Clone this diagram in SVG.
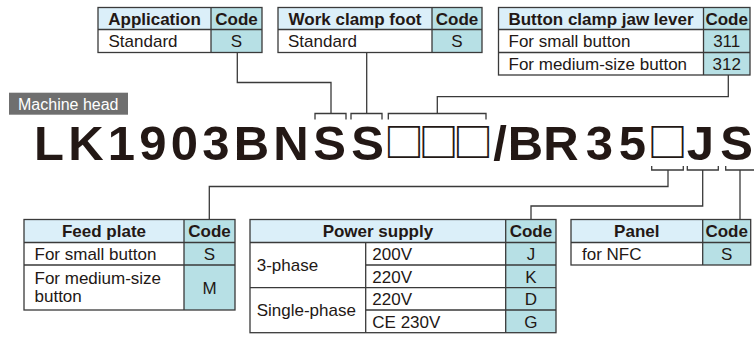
<svg xmlns="http://www.w3.org/2000/svg" width="754" height="338" viewBox="0 0 754 338">
<style>
.t{font-family:"Liberation Sans",Arial,sans-serif;font-size:17px;fill:#231815}
.b{font-weight:bold}
.m{text-anchor:middle}
.hd{fill:#dbeff9}
.cd{fill:#b7e0e5}
.ln{fill:none;stroke:#3a3a3a;stroke-width:1.3}
.cn{fill:none;stroke:#3a3a3a;stroke-width:1.3}
.big{font-family:"Liberation Sans",Arial,sans-serif;font-size:49px;font-weight:bold;fill:#231815;text-anchor:middle}
.bx{font-family:"Noto Sans CJK JP",sans-serif;font-size:40px;font-weight:bold}
.bx3{font-family:"Noto Sans CJK JP",sans-serif;font-size:40px;font-weight:bold;letter-spacing:-5.5px;text-anchor:start}
</style>
<rect width="754" height="338" fill="#ffffff"/>

<g id="connectors">
<path class="cn" d="M237.3,52.5 V82.5 H331 V113.5"/>
<path class="cn" d="M315,119.5 V113.5 H346 V119.5"/>
<path class="cn" d="M366.7,52.5 V113.5"/>
<path class="cn" d="M351,119.5 V113.5 H382 V119.5"/>
<path class="cn" d="M388.3,119.5 V113.5 H486 V119.5"/>
<path class="cn" d="M437.3,113.5 V96.7 H728.3 V75"/>
<path class="cn" d="M651.7,166 V170 H683.3 V166"/>
<path class="cn" d="M668,170 V186.5 H209.3 V219.5"/>
<path class="cn" d="M687.3,166 V170 H718.3 V166"/>
<path class="cn" d="M702.7,170 V206 H531 V219.5"/>
<path class="cn" d="M725.7,166 V170 H756 V166"/>
<path class="cn" d="M740,170 V219.5"/>
</g>

<g id="machine-head">
<rect x="9" y="92.7" width="119" height="22" fill="#6f6f6f"/>
<text x="18" y="110" style="font-family:'Liberation Sans',Arial,sans-serif;font-size:16px;fill:#ffffff">Machine head</text>
</g>

<g id="model-code">
<text class="big" y="160"><tspan x="49">L</tspan><tspan x="86">K</tspan><tspan x="121.5">1</tspan><tspan x="153">9</tspan><tspan x="184.5">0</tspan><tspan x="216">3</tspan><tspan x="251.5">B</tspan><tspan x="291">N</tspan><tspan x="329.5">S</tspan><tspan x="367.5">S</tspan><tspan class="bx3" x="384" y="157">□□□</tspan><tspan x="500" y="160">/</tspan><tspan x="525.5">B</tspan><tspan x="561">R</tspan><tspan x="599.5">3</tspan><tspan x="632.5">5</tspan><tspan class="bx" x="667.5" y="157">□</tspan><tspan x="700.5" y="160">J</tspan><tspan x="736.5">S</tspan></text>
</g>

<g id="table-application">
<rect class="hd" x="98" y="7.5" width="113" height="22"/>
<rect class="cd" x="211" y="7.5" width="51" height="45"/>
<rect class="ln" x="98" y="7.5" width="164" height="45"/>
<path class="ln" d="M98,29.5 H262 M211,7.5 V52.5"/>
<text class="t b m" x="154.5" y="24.5">Application</text>
<text class="t b m" x="236.5" y="24.5">Code</text>
<text class="t" x="108.5" y="47">Standard</text>
<text class="t m" x="236.5" y="47">S</text>
</g>

<g id="table-work-clamp-foot">
<rect class="hd" x="278" y="7.5" width="154" height="22"/>
<rect class="cd" x="432" y="7.5" width="50" height="45"/>
<rect class="ln" x="278" y="7.5" width="204" height="45"/>
<path class="ln" d="M278,29.5 H482 M432,7.5 V52.5"/>
<text class="t b m" x="355" y="24.5">Work clamp foot</text>
<text class="t b m" x="457" y="24.5">Code</text>
<text class="t" x="288" y="47">Standard</text>
<text class="t m" x="457" y="47">S</text>
</g>

<g id="table-button-clamp-jaw-lever">
<rect class="hd" x="498.5" y="7.5" width="205" height="22"/>
<rect class="cd" x="703.5" y="7.5" width="46.5" height="67.5"/>
<rect class="ln" x="498.5" y="7.5" width="251.5" height="67.5"/>
<path class="ln" d="M498.5,29.5 H750 M498.5,52.5 H750 M703.5,7.5 V75"/>
<text class="t b m" x="601" y="24.5">Button clamp jaw lever</text>
<text class="t b m" x="726.7" y="24.5">Code</text>
<text class="t" x="508.5" y="47">For small button</text>
<text class="t m" x="726.7" y="47">311</text>
<text class="t" x="508.5" y="69.5">For medium-size button</text>
<text class="t m" x="726.7" y="69.5">312</text>
</g>

<g id="table-feed-plate">
<rect class="hd" x="24" y="219.5" width="160" height="23"/>
<rect class="cd" x="184" y="219.5" width="51" height="90.5"/>
<rect class="ln" x="24" y="219.5" width="211" height="90.5"/>
<path class="ln" d="M24,242.5 H235 M24,265 H235 M184,219.5 V310"/>
<text class="t b m" x="104" y="236.5">Feed plate</text>
<text class="t b m" x="209.5" y="236.5">Code</text>
<text class="t" x="34.5" y="259.5">For small button</text>
<text class="t m" x="209.5" y="259.5">S</text>
<text class="t" x="34.5" y="283.5">For medium-size</text>
<text class="t" x="34.5" y="301.5">button</text>
<text class="t m" x="209.5" y="293.5">M</text>
</g>

<g id="table-power-supply">
<rect class="hd" x="250" y="219.5" width="255.7" height="23"/>
<rect class="cd" x="505.7" y="219.5" width="50.3" height="113.2"/>
<rect class="ln" x="250" y="219.5" width="306" height="113.2"/>
<path class="ln" d="M250,242.5 H556 M365.7,265 H556 M250,287.7 H556 M365.7,310 H556 M365.7,242.5 V332.7 M505.7,219.5 V332.7"/>
<text class="t b m" x="377.9" y="236.5">Power supply</text>
<text class="t b m" x="530.9" y="236.5">Code</text>
<text class="t" x="256.7" y="271">3-phase</text>
<text class="t" x="256.7" y="316">Single-phase</text>
<text class="t" x="372.3" y="260">200V</text>
<text class="t" x="372.3" y="282.5">220V</text>
<text class="t" x="372.3" y="305">220V</text>
<text class="t" x="372.3" y="327.5">CE 230V</text>
<text class="t m" x="530.9" y="260">J</text>
<text class="t m" x="530.9" y="282.5">K</text>
<text class="t m" x="530.9" y="305">D</text>
<text class="t m" x="530.9" y="327.5">G</text>
</g>

<g id="table-panel">
<rect class="hd" x="571" y="219.5" width="131.7" height="23"/>
<rect class="cd" x="702.7" y="219.5" width="48" height="45.5"/>
<rect class="ln" x="571" y="219.5" width="179.7" height="45.5"/>
<path class="ln" d="M571,242.5 H750.7 M702.7,219.5 V265"/>
<text class="t b m" x="636.8" y="236.5">Panel</text>
<text class="t b m" x="726.7" y="236.5">Code</text>
<text class="t" x="582" y="259.5">for NFC</text>
<text class="t m" x="726.7" y="259.5">S</text>
</g>
</svg>
